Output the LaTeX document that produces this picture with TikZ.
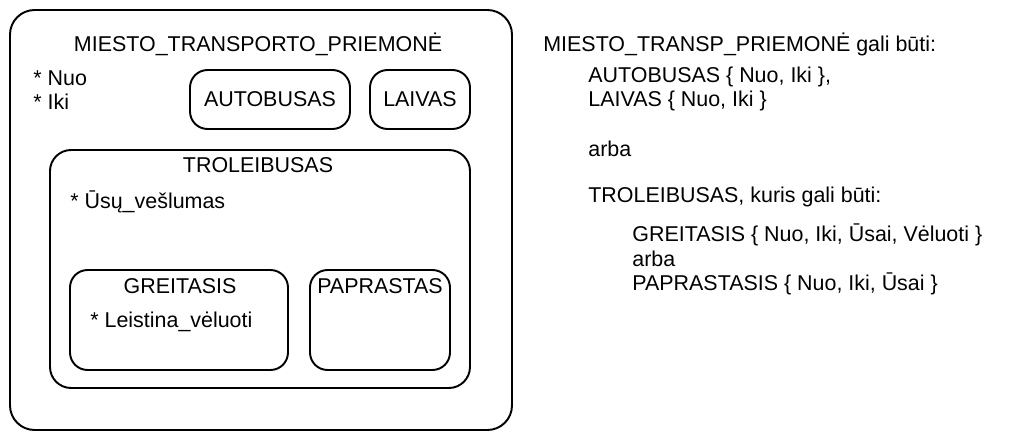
\documentclass[tikz,border=0pt]{standalone}
\usepackage{fontspec}
\setmainfont{Liberation Sans}
\begin{document}
\begin{tikzpicture}[
    box/.style={draw, line width=1.1pt, rounded corners=10pt, inner sep=0pt},
    txt/.style={font=\fontsize{12.2}{14}\selectfont, inner sep=0pt},
    lefttxt/.style={txt, anchor=west, align=left}
  ]

  % Ribos
  \useasboundingbox (0,0) rectangle (20.26,8.8);

  % Išorinis rėmas
  \node[box, rounded corners=14pt, minimum width=10.04cm, minimum height=8.4cm] (miestas) at (5.22,4.4) {};
  \node[txt] (miestasT) at (5.16,7.92) {MIESTO\_TRANSPORTO\_PRIEMONĖ};
  \node[lefttxt] (laukai) at (0.66,7.0) {* Nuo\\* Iki};

  % Autobusas ir laivas
  \node[box, txt, minimum width=3.2cm, minimum height=1.18cm] (autobusas) at (5.4,6.81) {AUTOBUSAS};
  \node[box, txt, minimum width=2.0cm, minimum height=1.18cm] (laivas) at (8.4,6.81) {LAIVAS};

  % Troleibusas
  \node[box, rounded corners=12pt, minimum width=8.4cm, minimum height=4.76cm] (troleibusas) at (5.2,3.42) {};
  \node[txt] (troleibusasT) at (5.16,5.5) {TROLEIBUSAS};
  \node[lefttxt] (usai) at (1.4,4.76) {* Ūsų\_vešlumas};

  % Greitasis ir paprastas
  \node[box, minimum width=4.36cm, minimum height=2.0cm] (greitasis) at (3.58,2.4) {};
  \node[txt] (greitasisT) at (3.6,3.08) {GREITASIS};
  \node[lefttxt] (veluoti) at (1.8,2.36) {* Leistina\_vėluoti};
  \node[box, minimum width=2.8cm, minimum height=2.0cm] (paprastas) at (7.6,2.4) {};
  \node[txt] (paprastasT) at (7.6,3.08) {PAPRASTAS};

  % Aprašymas dešinėje
  \node[lefttxt] (d1) at (10.86,7.92) {MIESTO\_TRANSP\_PRIEMONĖ gali būti:};
  \node[lefttxt] (d2) at (11.76,7.26) {AUTOBUSAS \{ Nuo, Iki \},};
  \node[lefttxt] (d3) at (11.76,6.78) {LAIVAS \{ Nuo, Iki \}};
  \node[lefttxt] (d4) at (11.76,5.82) {arba};
  \node[lefttxt] (d5) at (11.76,4.86) {TROLEIBUSAS, kuris gali būti:};
  \node[lefttxt] (d6) at (12.64,4.10) {GREITASIS \{ Nuo, Iki, Ūsai, Vėluoti \}};
  \node[lefttxt] (d7) at (12.64,3.62) {arba};
  \node[lefttxt] (d8) at (12.64,3.12) {PAPRASTASIS \{ Nuo, Iki, Ūsai \}};

\end{tikzpicture}
\end{document}
